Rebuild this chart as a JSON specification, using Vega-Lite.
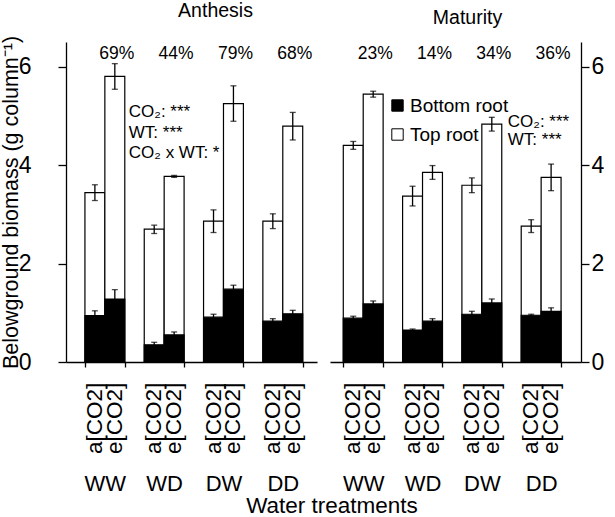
{
  "$schema": "https://vega.github.io/schema/vega-lite/v6.json",
  "padding": {"left": 0, "top": 0, "right": 0, "bottom": 0},
  "config": {
    "font": "Liberation Sans",
    "view": {"stroke": null},
    "axis": {"domainColor": "black", "tickColor": "black", "labelColor": "black", "titleColor": "black", "grid": false, "labelFont": "Liberation Sans", "titleFont": "Liberation Sans", "domainWidth": 1.3, "tickWidth": 1.3},
    "text": {"font": "Liberation Sans", "color": "black"},
    "title": {"font": "Liberation Sans", "fontWeight": "normal", "color": "black"}
  },
  "datasets": {
    "bars": [
      {"stage": "Anthesis", "wt": "WW", "co2": "a", "part": "Top root", "value": 3.44, "lo": 3.28, "hi": 3.60},
      {"stage": "Anthesis", "wt": "WW", "co2": "e", "part": "Top root", "value": 5.80, "lo": 5.54, "hi": 6.06},
      {"stage": "Anthesis", "wt": "WD", "co2": "a", "part": "Top root", "value": 2.70, "lo": 2.61, "hi": 2.78},
      {"stage": "Anthesis", "wt": "WD", "co2": "e", "part": "Top root", "value": 3.77, "lo": 3.75, "hi": 3.79},
      {"stage": "Anthesis", "wt": "DW", "co2": "a", "part": "Top root", "value": 2.86, "lo": 2.63, "hi": 3.09},
      {"stage": "Anthesis", "wt": "DW", "co2": "e", "part": "Top root", "value": 5.25, "lo": 4.89, "hi": 5.61},
      {"stage": "Anthesis", "wt": "DD", "co2": "a", "part": "Top root", "value": 2.86, "lo": 2.71, "hi": 3.01},
      {"stage": "Anthesis", "wt": "DD", "co2": "e", "part": "Top root", "value": 4.79, "lo": 4.51, "hi": 5.07},
      {"stage": "Maturity", "wt": "WW", "co2": "a", "part": "Top root", "value": 4.40, "lo": 4.32, "hi": 4.48},
      {"stage": "Maturity", "wt": "WW", "co2": "e", "part": "Top root", "value": 5.44, "lo": 5.38, "hi": 5.50},
      {"stage": "Maturity", "wt": "WD", "co2": "a", "part": "Top root", "value": 3.37, "lo": 3.17, "hi": 3.57},
      {"stage": "Maturity", "wt": "WD", "co2": "e", "part": "Top root", "value": 3.85, "lo": 3.71, "hi": 3.99},
      {"stage": "Maturity", "wt": "DW", "co2": "a", "part": "Top root", "value": 3.59, "lo": 3.44, "hi": 3.74},
      {"stage": "Maturity", "wt": "DW", "co2": "e", "part": "Top root", "value": 4.83, "lo": 4.69, "hi": 4.97},
      {"stage": "Maturity", "wt": "DD", "co2": "a", "part": "Top root", "value": 2.76, "lo": 2.63, "hi": 2.89},
      {"stage": "Maturity", "wt": "DD", "co2": "e", "part": "Top root", "value": 3.75, "lo": 3.48, "hi": 4.02},
      {"stage": "Anthesis", "wt": "WW", "co2": "a", "part": "Bottom root", "value": 0.94, "lo": 0.84, "hi": 1.04},
      {"stage": "Anthesis", "wt": "WW", "co2": "e", "part": "Bottom root", "value": 1.28, "lo": 1.09, "hi": 1.47},
      {"stage": "Anthesis", "wt": "WD", "co2": "a", "part": "Bottom root", "value": 0.35, "lo": 0.30, "hi": 0.40},
      {"stage": "Anthesis", "wt": "WD", "co2": "e", "part": "Bottom root", "value": 0.55, "lo": 0.49, "hi": 0.61},
      {"stage": "Anthesis", "wt": "DW", "co2": "a", "part": "Bottom root", "value": 0.91, "lo": 0.85, "hi": 0.97},
      {"stage": "Anthesis", "wt": "DW", "co2": "e", "part": "Bottom root", "value": 1.48, "lo": 1.40, "hi": 1.56},
      {"stage": "Anthesis", "wt": "DD", "co2": "a", "part": "Bottom root", "value": 0.83, "lo": 0.78, "hi": 0.88},
      {"stage": "Anthesis", "wt": "DD", "co2": "e", "part": "Bottom root", "value": 0.98, "lo": 0.91, "hi": 1.05},
      {"stage": "Maturity", "wt": "WW", "co2": "a", "part": "Bottom root", "value": 0.89, "lo": 0.85, "hi": 0.93},
      {"stage": "Maturity", "wt": "WW", "co2": "e", "part": "Bottom root", "value": 1.18, "lo": 1.12, "hi": 1.24},
      {"stage": "Maturity", "wt": "WD", "co2": "a", "part": "Bottom root", "value": 0.65, "lo": 0.63, "hi": 0.67},
      {"stage": "Maturity", "wt": "WD", "co2": "e", "part": "Bottom root", "value": 0.83, "lo": 0.78, "hi": 0.88},
      {"stage": "Maturity", "wt": "DW", "co2": "a", "part": "Bottom root", "value": 0.97, "lo": 0.91, "hi": 1.03},
      {"stage": "Maturity", "wt": "DW", "co2": "e", "part": "Bottom root", "value": 1.20, "lo": 1.12, "hi": 1.28},
      {"stage": "Maturity", "wt": "DD", "co2": "a", "part": "Bottom root", "value": 0.95, "lo": 0.93, "hi": 0.97},
      {"stage": "Maturity", "wt": "DD", "co2": "e", "part": "Bottom root", "value": 1.03, "lo": 0.96, "hi": 1.10}
    ],
    "co2lab": [
      {"wt": "WW", "co2": "a", "lab": "a[CO2]"}, {"wt": "WW", "co2": "e", "lab": "e[CO2]"},
      {"wt": "WD", "co2": "a", "lab": "a[CO2]"}, {"wt": "WD", "co2": "e", "lab": "e[CO2]"},
      {"wt": "DW", "co2": "a", "lab": "a[CO2]"}, {"wt": "DW", "co2": "e", "lab": "e[CO2]"},
      {"wt": "DD", "co2": "a", "lab": "a[CO2]"}, {"wt": "DD", "co2": "e", "lab": "e[CO2]"}
    ],
    "pct": [
      {"stage": "Anthesis", "wt": "WW", "co2": "e", "pct": "69%"},
      {"stage": "Anthesis", "wt": "WD", "co2": "e", "pct": "44%"},
      {"stage": "Anthesis", "wt": "DW", "co2": "e", "pct": "79%"},
      {"stage": "Anthesis", "wt": "DD", "co2": "e", "pct": "68%"},
      {"stage": "Maturity", "wt": "WW", "co2": "e", "pct": "23%"},
      {"stage": "Maturity", "wt": "WD", "co2": "e", "pct": "14%"},
      {"stage": "Maturity", "wt": "DW", "co2": "e", "pct": "34%"},
      {"stage": "Maturity", "wt": "DD", "co2": "e", "pct": "36%"}
    ],
    "notes": [
      {"stage": "Anthesis", "wt": "WW", "co2": "e", "line": "CO₂: ***", "at": 5.07},
      {"stage": "Anthesis", "wt": "WW", "co2": "e", "line": "WT: ***", "at": 4.66},
      {"stage": "Anthesis", "wt": "WW", "co2": "e", "line": "CO₂ x WT: *", "at": 4.24},
      {"stage": "Maturity", "wt": "DW", "co2": "e", "line": "CO₂: ***", "at": 4.87},
      {"stage": "Maturity", "wt": "DW", "co2": "e", "line": "WT: ***", "at": 4.50}
    ]
  },
  "title": {"text": "Water treatments", "orient": "bottom", "fontSize": 22.5, "anchor": "middle", "dx": 30, "offset": 19, "baseline": "alphabetic"},
  "spacing": 13,
  "resolve": {"scale": {"fill": "independent"}, "legend": {"fill": "independent"}},
  "hconcat": [
    {
      "width": 251,
      "height": 320,
      "title": {"text": "Anthesis", "fontSize": 19.5, "dx": 24, "offset": -1, "baseline": "alphabetic"},
      "encoding": {
        "x": {"field": "wt", "type": "nominal", "sort": ["WW", "WD", "DW", "DD"],
              "scale": {"paddingInner": 0.328, "paddingOuter": 0.28, "align": 0.57},
              "axis": {"title": null, "labelAngle": 0, "labelFontSize": 22, "labelPadding": 106, "tickSize": 5, "tickBand": "extent"}},
        "xOffset": {"field": "co2", "type": "nominal", "sort": ["a", "e"], "scale": {"paddingInner": 0, "paddingOuter": 0}}
      },
      "layer": [
        {
          "data": {"name": "bars"},
          "transform": [{"filter": "datum.stage === 'Anthesis'"}],
          "mark": {"type": "bar", "stroke": "black", "strokeWidth": 1.2},
          "encoding": {
            "y": {"field": "value", "type": "quantitative", "stack": null,
                  "scale": {"domain": [0, 6.5], "nice": false, "zero": true},
                  "axis": {"orient": "left", "values": [0, 2, 4, 6], "title": "Belowground biomass (g column⁻¹)", "titleFontSize": 21.5, "titleFontWeight": "normal", "labelFontSize": 23, "tickSize": 8, "labelPadding": 27, "titlePadding": -4}},
            "fill": {"field": "part", "type": "nominal", "scale": {"domain": ["Bottom root", "Top root"], "range": ["black", "white"]}, "legend": null}
          }
        },
        {
          "data": {"name": "bars"},
          "transform": [{"filter": "datum.stage === 'Anthesis'"}],
          "mark": {"type": "rule", "color": "black", "strokeWidth": 1.3},
          "encoding": {
            "y": {"field": "lo", "type": "quantitative", "title": "Belowground biomass (g column⁻¹)"},
            "y2": {"field": "hi"}
          }
        },
        {
          "data": {"name": "bars"},
          "transform": [{"filter": "datum.stage === 'Anthesis'"}],
          "mark": {"type": "tick", "orient": "horizontal", "color": "black", "size": 6, "thickness": 1.3},
          "encoding": {"y": {"field": "lo", "type": "quantitative", "title": "Belowground biomass (g column⁻¹)"}}
        },
        {
          "data": {"name": "bars"},
          "transform": [{"filter": "datum.stage === 'Anthesis'"}],
          "mark": {"type": "tick", "orient": "horizontal", "color": "black", "size": 6, "thickness": 1.3},
          "encoding": {"y": {"field": "hi", "type": "quantitative", "title": "Belowground biomass (g column⁻¹)"}}
        },
        {
          "data": {"name": "co2lab"},
          "mark": {"type": "text", "angle": 270, "align": "right", "baseline": "middle", "fontSize": 22.5},
          "encoding": {
            "y": {"datum": -0.42, "type": "quantitative", "title": "Belowground biomass (g column⁻¹)"},
            "text": {"field": "lab"}
          }
        },
        {
          "data": {"name": "pct"},
          "transform": [{"filter": "datum.stage === 'Anthesis'"}],
          "mark": {"type": "text", "align": "center", "baseline": "middle", "fontSize": 17.5, "dx": 2},
          "encoding": {
            "y": {"datum": 6.25, "type": "quantitative", "title": "Belowground biomass (g column⁻¹)"},
            "text": {"field": "pct"}
          }
        },
        {
          "data": {"name": "notes"},
          "transform": [{"filter": "datum.stage === 'Anthesis'"}],
          "mark": {"type": "text", "align": "left", "baseline": "middle", "fontSize": 17, "dx": 14},
          "encoding": {
            "y": {"field": "at", "type": "quantitative", "title": "Belowground biomass (g column⁻¹)"},
            "text": {"field": "line"}
          }
        }
      ]
    },
    {
      "width": 251,
      "height": 320,
      "title": {"text": "Maturity", "fontSize": 19.5, "dx": 12, "offset": -1, "baseline": "alphabetic"},
      "encoding": {
        "x": {"field": "wt", "type": "nominal", "sort": ["WW", "WD", "DW", "DD"],
              "scale": {"paddingInner": 0.328, "paddingOuter": 0.28, "align": 0.4},
              "axis": {"title": null, "labelAngle": 0, "labelFontSize": 22, "labelPadding": 106, "tickSize": 5, "tickBand": "extent"}},
        "xOffset": {"field": "co2", "type": "nominal", "sort": ["a", "e"], "scale": {"paddingInner": 0, "paddingOuter": 0}}
      },
      "layer": [
        {
          "data": {"name": "bars"},
          "transform": [{"filter": "datum.stage === 'Maturity'"}],
          "mark": {"type": "bar", "stroke": "black", "strokeWidth": 1.2},
          "encoding": {
            "y": {"field": "value", "type": "quantitative", "stack": null,
                  "scale": {"domain": [0, 6.5], "nice": false, "zero": true},
                  "axis": {"orient": "right", "values": [0, 2, 4, 6], "title": null, "labelFontSize": 23, "tickSize": 8, "labelPadding": 2}},
            "fill": {"field": "part", "type": "nominal", "scale": {"domain": ["Bottom root", "Top root"], "range": ["black", "white"]},
                     "legend": {"orient": "none", "legendX": 58, "legendY": 54, "title": null, "symbolType": "square", "symbolSize": 130, "symbolStrokeColor": "black", "symbolStrokeWidth": 1, "labelFontSize": 19, "labelOffset": 3, "rowPadding": 9, "padding": 0, "labelColor": "black", "labelFont": "Liberation Sans"}}
          }
        },
        {
          "data": {"name": "bars"},
          "transform": [{"filter": "datum.stage === 'Maturity'"}],
          "mark": {"type": "rule", "color": "black", "strokeWidth": 1.3},
          "encoding": {
            "y": {"field": "lo", "type": "quantitative", "title": null},
            "y2": {"field": "hi"}
          }
        },
        {
          "data": {"name": "bars"},
          "transform": [{"filter": "datum.stage === 'Maturity'"}],
          "mark": {"type": "tick", "orient": "horizontal", "color": "black", "size": 6, "thickness": 1.3},
          "encoding": {"y": {"field": "lo", "type": "quantitative", "title": null}}
        },
        {
          "data": {"name": "bars"},
          "transform": [{"filter": "datum.stage === 'Maturity'"}],
          "mark": {"type": "tick", "orient": "horizontal", "color": "black", "size": 6, "thickness": 1.3},
          "encoding": {"y": {"field": "hi", "type": "quantitative", "title": null}}
        },
        {
          "data": {"name": "co2lab"},
          "mark": {"type": "text", "angle": 270, "align": "right", "baseline": "middle", "fontSize": 22.5},
          "encoding": {
            "y": {"datum": -0.42, "type": "quantitative", "title": null},
            "text": {"field": "lab"}
          }
        },
        {
          "data": {"name": "pct"},
          "transform": [{"filter": "datum.stage === 'Maturity'"}],
          "mark": {"type": "text", "align": "center", "baseline": "middle", "fontSize": 17.5, "dx": 2},
          "encoding": {
            "y": {"datum": 6.25, "type": "quantitative", "title": null},
            "text": {"field": "pct"}
          }
        },
        {
          "data": {"name": "notes"},
          "transform": [{"filter": "datum.stage === 'Maturity'"}],
          "mark": {"type": "text", "align": "left", "baseline": "middle", "fontSize": 17, "dx": 16},
          "encoding": {
            "y": {"field": "at", "type": "quantitative", "title": null},
            "text": {"field": "line"}
          }
        }
      ]
    }
  ]
}
